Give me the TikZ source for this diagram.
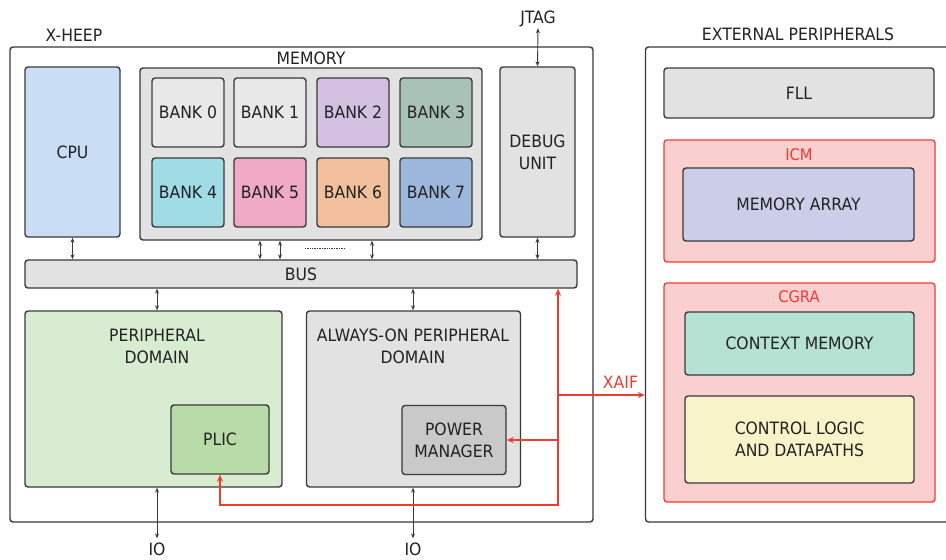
\documentclass[tikz,border=0pt]{standalone}
\usepackage{fontspec}
\setmainfont{DejaVu Sans}[FakeStretch=0.92]
\usetikzlibrary{arrows.meta}

\definecolor{edge}{HTML}{3A3A3A}
\definecolor{ink}{HTML}{222222}
\definecolor{grayfill}{HTML}{E2E2E2}
\definecolor{cpufill}{HTML}{C9DDF4}
\definecolor{bankgray}{HTML}{E8E8E8}
\definecolor{banklilac}{HTML}{D4C0E0}
\definecolor{banksage}{HTML}{A8C2B8}
\definecolor{bankcyan}{HTML}{A0DCE6}
\definecolor{bankpink}{HTML}{F0AAC6}
\definecolor{bankorange}{HTML}{F2C09C}
\definecolor{bankblue}{HTML}{9DB6DC}
\definecolor{periphfill}{HTML}{D8ECD2}
\definecolor{plicfill}{HTML}{B8DCA8}
\definecolor{pmfill}{HTML}{C9C9C9}
\definecolor{accfill}{HTML}{F9CFCF}
\definecolor{xred}{HTML}{F03C30}
\definecolor{arrayfill}{HTML}{CBCDE9}
\definecolor{ctxfill}{HTML}{B5E2D2}
\definecolor{ctrlfill}{HTML}{F8F3C8}

\tikzset{
    blk/.style={draw=edge, line width=1.4pt, rounded corners=3pt, inner sep=0pt,
        align=center, text=ink, font=\fontsize{17}{22}\selectfont},
    bank/.style={blk, minimum width=72pt, minimum height=69pt},
    acc/.style={draw=xred, line width=1.3pt, rounded corners=3pt, fill=accfill},
    lbl/.style={text=ink, inner sep=1pt, font=\fontsize{17}{22}\selectfont},
    dbl/.style={{Stealth[length=5pt,width=4pt]}-{Stealth[length=5pt,width=4pt]}, line width=0.9pt, edge},
    xaifline/.style={line width=1.3pt, xred, arrows={-Stealth[length=7pt,width=6pt]}}
}

\begin{document}
\begin{tikzpicture}[x=1pt, y=-1pt]
    \useasboundingbox[fill=white] (0,0) rectangle (946,560);

    \node[blk, fill=white, minimum width=583pt, minimum height=475pt] (heep) at (301.5,284.5) {};
    \node[lbl] (heeplbl) at (74,35) {X-HEEP};
    \node[blk, fill=white, minimum width=315pt, minimum height=475pt] (ext) at (803,284.5) {};
    \node[lbl] (extlbl) at (798,34) {EXTERNAL PERIPHERALS};

    \node[blk, fill=cpufill, minimum width=95pt, minimum height=170pt] (cpu) at (72.5,152) {CPU};
    \node[blk, fill=grayfill, minimum width=342pt, minimum height=172pt] (mem) at (311,154) {};
    \node[lbl] (memlbl) at (311,58) {MEMORY};
    \node[bank, fill=bankgray] (bank0) at (188,112.5) {BANK 0};
    \node[bank, fill=bankgray] (bank1) at (270,112.5) {BANK 1};
    \node[bank, fill=banklilac] (bank2) at (353,112.5) {BANK 2};
    \node[bank, fill=banksage] (bank3) at (436,112.5) {BANK 3};
    \node[bank, fill=bankcyan] (bank4) at (188,192.5) {BANK 4};
    \node[bank, fill=bankpink] (bank5) at (270,192.5) {BANK 5};
    \node[bank, fill=bankorange] (bank6) at (353,192.5) {BANK 6};
    \node[bank, fill=bankblue] (bank7) at (436,192.5) {BANK 7};
    \node[blk, fill=grayfill, minimum width=75pt, minimum height=170pt] (debug) at (537.5,152) {DEBUG\\UNIT};
    \node[lbl] (jtag) at (538,19) {JTAG};

    \node[blk, fill=grayfill, minimum width=552pt, minimum height=28pt] (bus) at (301,274) {BUS};

    \node[blk, fill=periphfill, minimum width=257pt, minimum height=176pt] (periph) at (153.5,399) {};
    \node[lbl, align=center] (periphlbl) at (157,346) {PERIPHERAL\\DOMAIN};
    \node[blk, fill=plicfill, minimum width=98pt, minimum height=69pt] (plic) at (220,439.5) {PLIC};
    \node[blk, fill=grayfill, minimum width=214pt, minimum height=176pt] (aon) at (413.5,399) {};
    \node[lbl, align=center] (aonlbl) at (413,346) {ALWAYS-ON PERIPHERAL\\DOMAIN};
    \node[blk, fill=pmfill, minimum width=104pt, minimum height=69pt] (pm) at (454,440) {POWER\\MANAGER};
    \node[lbl] (io1) at (157,549) {IO};
    \node[lbl] (io2) at (413,549) {IO};

    \node[blk, fill=grayfill, minimum width=270pt, minimum height=50pt] (fll) at (799,93) {FLL};
    \node[acc, minimum width=271pt, minimum height=122pt] (icm) at (799.5,201) {};
    \node[text=xred, font=\fontsize{16}{18}\selectfont] (icmlbl) at (799,155) {ICM};
    \node[blk, fill=arrayfill, minimum width=231pt, minimum height=73pt] (memarr) at (798.5,204.5) {MEMORY ARRAY};
    \node[acc, minimum width=271pt, minimum height=219pt] (cgra) at (799.5,392.5) {};
    \node[text=xred, font=\fontsize{16}{18}\selectfont] (cgralbl) at (799,297) {CGRA};
    \node[blk, fill=ctxfill, minimum width=229pt, minimum height=63pt] (ctx) at (799.5,343.5) {CONTEXT MEMORY};
    \node[blk, fill=ctrlfill, minimum width=229pt, minimum height=87pt] (ctrl) at (799.5,439.5) {CONTROL LOGIC\\AND DATAPATHS};

    \draw[dbl] (jtag.south) -- (debug.north);
    \draw[dbl] (cpu.south) -- (bus.north -| cpu.south);
    \draw[dbl] (mem.south -| 260,0) -- (bus.north -| 260,0);
    \draw[dbl] (mem.south -| 280,0) -- (bus.north -| 280,0);
    \draw[dbl] (mem.south -| 372,0) -- (bus.north -| 372,0);
    \draw[densely dotted, line width=0.7pt, edge] (305,248) -- (345,248);
    \draw[dbl] (debug.south) -- (bus.north -| debug.south);
    \draw[dbl] (bus.south -| io1) -- (periph.north -| io1);
    \draw[dbl] (bus.south -| io2) -- (aon.north -| io2);
    \draw[dbl, shorten >=3pt] (periph.south -| io1) -- (io1.north);
    \draw[dbl, shorten >=3pt] (aon.south -| io2) -- (io2.north);

    \coordinate (xbot) at (558,505);
    \coordinate (xmid) at (558,395);
    \draw[xaifline, {Stealth[length=7pt,width=6pt]}-{Stealth[length=7pt,width=6pt]}] (plic.south) |- (xbot) -- (xbot |- bus.south);
    \draw[xaifline] (xbot |- pm.east) -- (pm.east);
    \draw[xaifline] (xmid) -- (ext.west |- xmid) node[pos=0.72, above=3pt, font=\fontsize{17}{22}\selectfont] (xaiflbl) {XAIF};
\end{tikzpicture}
\end{document}
